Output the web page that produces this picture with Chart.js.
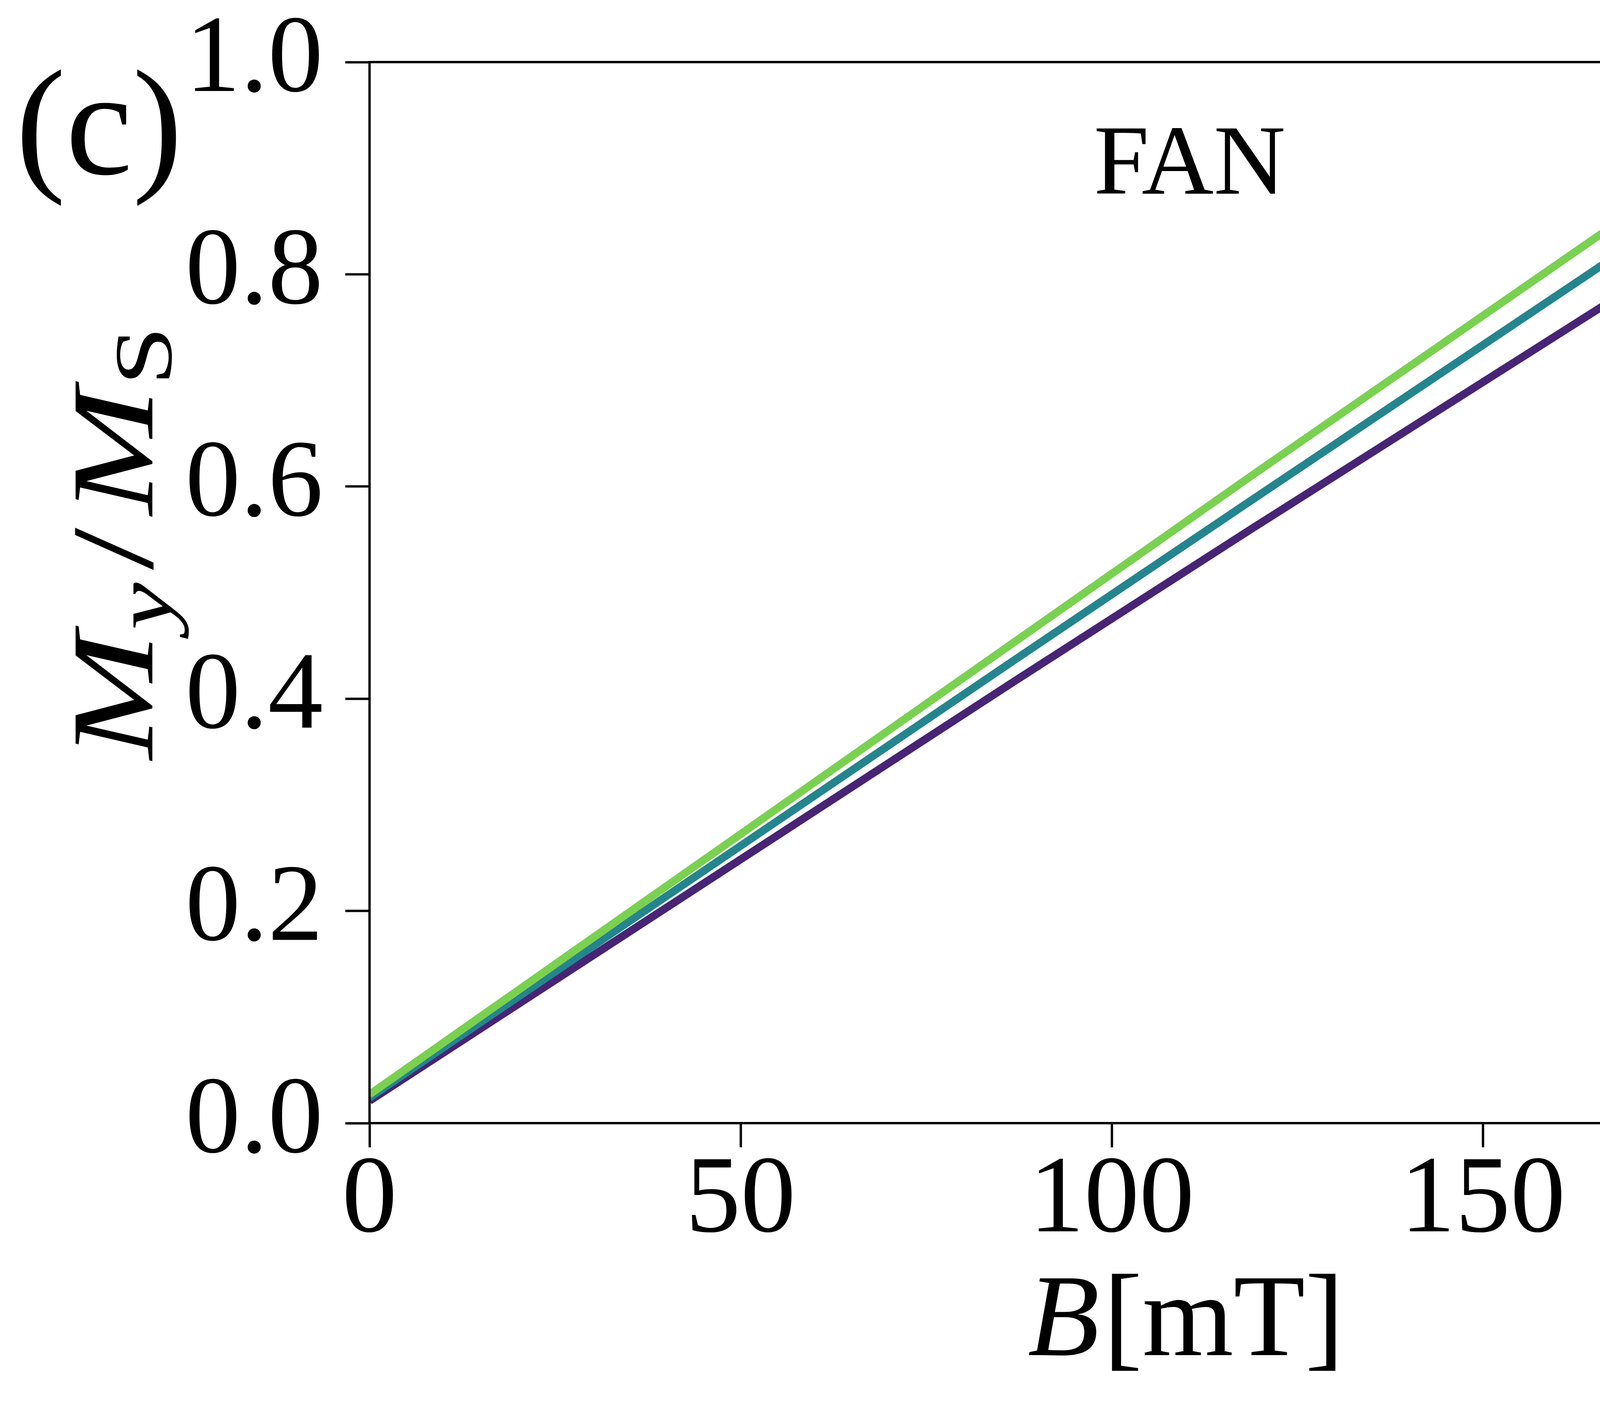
<!DOCTYPE html>
<html>
<head>
<meta charset="utf-8">
<script src="https://cdn.jsdelivr.net/npm/chart.js@4.4.0/dist/chart.umd.min.js"></script>
<style>
  html, body { margin: 0; padding: 0; background: #fff; overflow: hidden; }
  canvas { display: block; width: 100vw; height: 100vh; }
</style>
</head>
<body>
<canvas id="fanChart" width="5189" height="3608"></canvas>
<script>
// Magnetizacao M_y/M_S em funcao do campo B (FAN)
var xTicks = [0, 50, 100, 150, 200];
var yTicks = [0.0, 0.2, 0.4, 0.6, 0.8, 1.0];

// curva verde
var bGreen = [0, 87.0, 118.6, 174.4];
var mGreen = [0.027, 0.454, 0.609, 0.879];
// curva azul-petroleo
var bTeal = [0, 87.0, 118.6, 186.4];
var mTeal = [0.024, 0.437, 0.586, 0.904];
// curva roxa
var bPurple = [0, 87.0, 118.6, 198.4];
var mPurple = [0.021, 0.417, 0.559, 0.913];

var panelLabel = '(c)';
var fanLabel = 'FAN';

var SERIF = '"Liberation Serif", "DejaVu Serif", serif';
var W = 5189, H = 3608;
var AREA = { left: 946, right: 5126, top: 159, bottom: 2876 };

function pontos(xs, ys) {
    var out = [];
    for (var i = 0; i < xs.length; i++) out.push({ x: xs[i], y: ys[i] });
    return out;
}

// desenha texto com partes (italico / subscrito) centrado em cx
function textoComposto(ctx, partes, cx, baseY, size, esticar) {
    var larguras = [], total = 0;
    for (var i = 0; i < partes.length; i++) {
        var p = partes[i];
        var s = p.sub ? size * 0.7 : size;
        ctx.font = (p.italic ? 'italic ' : '') + s + 'px ' + SERIF;
        var w = ctx.measureText(p.t).width;
        larguras.push(w);
        total += w + (p.gap || 0);
    }
    ctx.save();
    ctx.translate(cx, baseY);
    ctx.scale(esticar || 1, 1);
    var x = -total / 2;
    ctx.textAlign = 'left';
    ctx.textBaseline = 'alphabetic';
    for (var j = 0; j < partes.length; j++) {
        var q = partes[j];
        var sz = q.sub ? size * 0.7 : size;
        ctx.font = (q.italic ? 'italic ' : '') + sz + 'px ' + SERIF;
        ctx.fillText(q.t, x, q.sub ? size * 0.16 : 0);
        x += larguras[j] + (q.gap || 0);
    }
    ctx.restore();
}

var decoracao = {
    id: 'decoracao',
    afterDraw: function(chart) {
        var ctx = chart.ctx;
        var ca = chart.chartArea;
        var xs = chart.scales.x, ys = chart.scales.y;
        ctx.save();
        ctx.fillStyle = '#000';
        ctx.strokeStyle = '#000';

        // moldura
        ctx.lineWidth = 6;
        ctx.strokeRect(ca.left, ca.top, ca.right - ca.left, ca.bottom - ca.top);

        // (c)
        ctx.font = '385px ' + SERIF;
        ctx.textAlign = 'left';
        ctx.textBaseline = 'alphabetic';
        ctx.fillText(panelLabel, 40, 445);

        // FAN
        ctx.font = '255px ' + SERIF;
        ctx.textAlign = 'center';
        ctx.fillText(fanLabel, xs.getPixelForValue(110.5), ys.getPixelForValue(0.876));

        // titulo eixo x
        textoComposto(ctx, [
            { t: 'B', italic: true, gap: 10 },
            { t: '[mT]' }
        ], (ca.left + ca.right) / 2, 3470, 300, 1);

        // titulo eixo y (rotacionado)
        ctx.translate(390, 1390);
        ctx.rotate(-Math.PI / 2);
        textoComposto(ctx, [
            { t: 'M', italic: true, gap: 5 },
            { t: 'y', italic: true, sub: true, gap: 25 },
            { t: '/', gap: 25 },
            { t: 'M', italic: true, gap: 5 },
            { t: 'S', sub: true }
        ], 0, 0, 300, 1.3);
        ctx.restore();
    }
};

var ctxEl = document.getElementById('fanChart');

new Chart(ctxEl, {
    type: 'line',
    data: {
        datasets: [
            { data: pontos(bGreen, mGreen), borderColor: '#7ad151' },
            { data: pontos(bTeal, mTeal), borderColor: '#25858e' },
            { data: pontos(bPurple, mPurple), borderColor: '#482475' }
        ]
    },
    options: {
        responsive: false,
        animation: false,
        devicePixelRatio: 1,
        elements: {
            line: { borderWidth: 20, tension: 0, fill: false, borderCapStyle: 'butt' },
            point: { radius: 0, hoverRadius: 0 }
        },
        datasets: { line: { clip: 0 } },
        layout: { padding: { top: AREA.top, right: W - AREA.right, left: 0, bottom: 0 } },
        plugins: {
            legend: { display: false },
            tooltip: { enabled: false },
            title: { display: false }
        },
        scales: {
            x: {
                type: 'linear',
                min: 0,
                max: 220,
                afterFit: function(scale) {
                    scale.height = H - AREA.bottom;
                    scale.paddingLeft = 0; scale.paddingRight = 0;
                    scale.paddingTop = 0; scale.paddingBottom = 0;
                },
                afterBuildTicks: function(scale) {
                    scale.ticks = xTicks.map(function(v) { return { value: v }; });
                },
                border: { display: false },
                grid: {
                    drawOnChartArea: false,
                    drawTicks: true,
                    tickLength: 62,
                    tickWidth: 6,
                    tickColor: '#000'
                },
                ticks: {
                    color: '#000',
                    padding: 0,
                    maxRotation: 0,
                    font: { family: SERIF, size: 282, lineHeight: 1 },
                    callback: function(v) { return String(v); }
                }
            },
            y: {
                type: 'linear',
                min: 0,
                max: 1,
                afterFit: function(scale) {
                    scale.width = AREA.left;
                    scale.paddingLeft = 0; scale.paddingRight = 0;
                    scale.paddingTop = 0; scale.paddingBottom = 0;
                },
                afterBuildTicks: function(scale) {
                    scale.ticks = yTicks.map(function(v) { return { value: v }; });
                },
                border: { display: false },
                grid: {
                    drawOnChartArea: false,
                    drawTicks: true,
                    tickLength: 62,
                    tickWidth: 6,
                    tickColor: '#000'
                },
                ticks: {
                    color: '#000',
                    padding: 57,
                    font: { family: SERIF, size: 282, lineHeight: 1 },
                    callback: function(v) { return Number(v).toFixed(1); }
                }
            }
        }
    },
    plugins: [decoracao]
});
</script>
</body>
</html>
